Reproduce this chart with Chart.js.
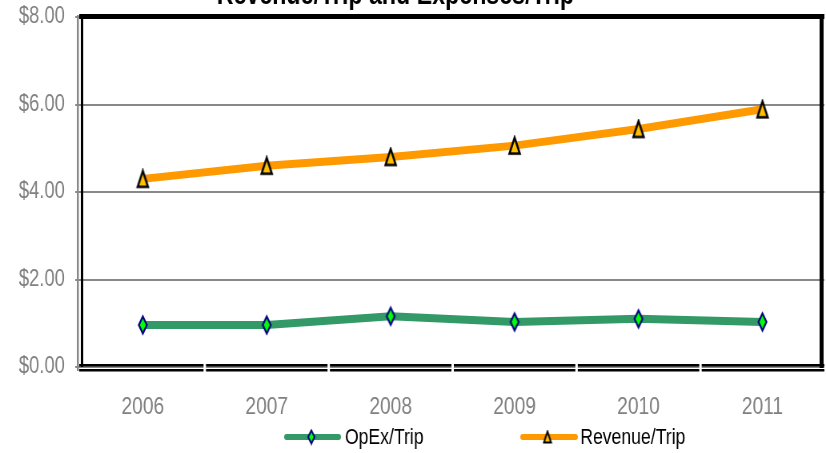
<!DOCTYPE html>
<html>
<head>
<meta charset="utf-8">
<script src="https://cdn.jsdelivr.net/npm/chart.js@4.4.0/dist/chart.umd.min.js"></script>
<style>
  html, body { margin: 0; padding: 0; background: #fff; overflow: hidden; }
  #wrap { width: 826px; height: 453px; overflow: hidden; }
  #c { display: block; width: 826px; height: 453px; }
</style>
</head>
<body>
<div id="wrap"><canvas id="c" width="1032" height="453" style="width:826px;height:453px"></canvas></div>
<script>
const title = 'Revenue/Trip and Expenses/Trip';
const years = ['2006', '2007', '2008', '2009', '2010', '2011'];
const opexPerTrip = [0.96, 0.96, 1.16, 1.03, 1.10, 1.03];
const revenuePerTrip = [4.30, 4.60, 4.80, 5.06, 5.44, 5.89];
const seriesNames = ['OpEx/Trip', 'Revenue/Trip'];
const yTicks = [0, 2, 4, 6, 8];

// canvas is drawn 1032 wide and shown 826 wide (condensed look of the original)
const FONT = "'Liberation Sans', Arial, sans-serif";
const GREEN = '#339966', ORANGE = '#FF9900';

function diamond(w, h, lw) {
  const c = document.createElement('canvas');
  c.width = Math.ceil(w + lw * 2); c.height = Math.ceil(h + lw * 2);
  const g = c.getContext('2d');
  const cx = c.width / 2, cy = c.height / 2;
  g.beginPath();
  g.moveTo(cx, cy - h / 2); g.lineTo(cx + w / 2, cy); g.lineTo(cx, cy + h / 2); g.lineTo(cx - w / 2, cy); g.closePath();
  g.fillStyle = '#00FF00'; g.fill();
  g.lineWidth = lw; g.strokeStyle = '#000080'; g.lineJoin = 'miter'; g.stroke();
  return c;
}
function triangle(w, h, lw) {
  const c = document.createElement('canvas');
  c.width = Math.ceil(w + lw * 2); c.height = Math.ceil(h + lw * 2);
  const g = c.getContext('2d');
  const cx = c.width / 2, cy = c.height / 2;
  g.beginPath();
  g.moveTo(cx, cy - h / 2); g.lineTo(cx + w / 2, cy + h / 2); g.lineTo(cx - w / 2, cy + h / 2); g.closePath();
  g.fillStyle = '#FFC000'; g.fill();
  g.lineWidth = lw; g.strokeStyle = '#000000'; g.lineJoin = 'miter'; g.stroke();
  return c;
}
const diamondImg = diamond(10, 17, 2.2);
const triImg = triangle(13, 16, 2.5);
const diamondSmall = diamond(8, 13, 2);
const triSmall = triangle(9, 11, 2);

const framePlugin = {
  id: 'frame',
  beforeDatasetsDraw(chart) {
    const ctx = chart.ctx;
    const a = chart.chartArea;
    const xs = chart.scales.x;
    ctx.save();
    // left double axis line
    ctx.fillStyle = '#888888';
    ctx.fillRect(a.left - 5, a.top - 2, 2.5, a.bottom - a.top + 6);
    ctx.fillStyle = '#000000';
    ctx.fillRect(a.left, a.top - 2, 3, a.bottom - a.top + 2);
    // top border
    ctx.fillRect(a.left - 2, a.top - 3, a.right - a.left + 2, 5);
    // right border
    ctx.fillRect(a.right - 6, a.top - 3, 5, a.bottom - a.top + 4);
    // bottom double line
    ctx.fillRect(a.left - 2, a.bottom - 3, a.right - a.left + 2, 2.5);
    ctx.fillRect(a.left - 2, a.bottom + 2, a.right - a.left + 2, 2.5);
    // category separators (white gaps)
    ctx.fillStyle = '#ffffff';
    for (let i = 1; i < years.length; i++) {
      const p = (xs.getPixelForTick(i - 1) + xs.getPixelForTick(i)) / 2;
      ctx.fillRect(p - 1.5, a.bottom - 4, 3, 10);
    }
    ctx.restore();
  },
  afterDraw(chart) {
    const ctx = chart.ctx;
    ctx.save();
    // title (cut off at top)
    ctx.font = "bold 29px " + FONT;
    ctx.fillStyle = '#000';
    ctx.textAlign = 'center';
    ctx.textBaseline = 'alphabetic';
    ctx.fillText(title, 494, 4);
    // legend
    const items = [
      { x0: 358, x1: 423, mx: 389, tx: 431, color: GREEN, img: diamondSmall, label: seriesNames[0] },
      { x0: 653, x1: 719, mx: 684, tx: 725, color: ORANGE, img: triSmall, label: seriesNames[1] }
    ];
    const ly = 437;
    items.forEach(it => {
      ctx.strokeStyle = it.color;
      ctx.lineWidth = 6;
      ctx.lineCap = 'round';
      ctx.beginPath();
      ctx.moveTo(it.x0, ly); ctx.lineTo(it.x1, ly);
      ctx.stroke();
      ctx.drawImage(it.img, it.mx - it.img.width / 2, ly - it.img.height / 2);
      ctx.font = "22px " + FONT;
      ctx.fillStyle = '#000';
      ctx.textAlign = 'left';
      ctx.textBaseline = 'middle';
      ctx.fillText(it.label, it.tx, ly + 1);
    });
    ctx.restore();
  }
};

new Chart(document.getElementById('c'), {
  type: 'line',
  data: {
    labels: years,
    datasets: [
      { label: seriesNames[0], data: opexPerTrip, borderColor: GREEN, borderWidth: 8, pointStyle: diamondImg, tension: 0 },
      { label: seriesNames[1], data: revenuePerTrip, borderColor: ORANGE, borderWidth: 8, pointStyle: triImg, tension: 0 }
    ]
  },
  options: {
    responsive: false,
    animation: false,
    devicePixelRatio: 1,
    layout: { autoPadding: false, padding: { top: 17, right: 2, bottom: 31, left: 0 } },
    plugins: { legend: { display: false }, title: { display: false }, tooltip: { enabled: false } },
    scales: {
      x: {
        offset: true,
        grid: { display: false, drawTicks: false },
        border: { display: false },
        ticks: { color: '#808080', font: { family: FONT, size: 24 }, padding: 26 },
        afterFit(s) { s.height = 55; s.paddingLeft = 0; s.paddingRight = 0; }
      },
      y: {
        min: 0, max: 8,
        afterBuildTicks(s) { s.ticks = yTicks.map(v => ({ value: v })); },
        grid: { color: '#888888', lineWidth: 2, tickLength: 7, drawOnChartArea: true },
        border: { display: false },
        ticks: { color: '#808080', font: { family: FONT, size: 23 }, padding: 13, callback: v => '$' + Number(v).toFixed(2) },
        afterFit(s) { s.width = 101; s.paddingTop = 0; s.paddingBottom = 0; }
      }
    }
  },
  plugins: [framePlugin]
});
</script>
</body>
</html>
